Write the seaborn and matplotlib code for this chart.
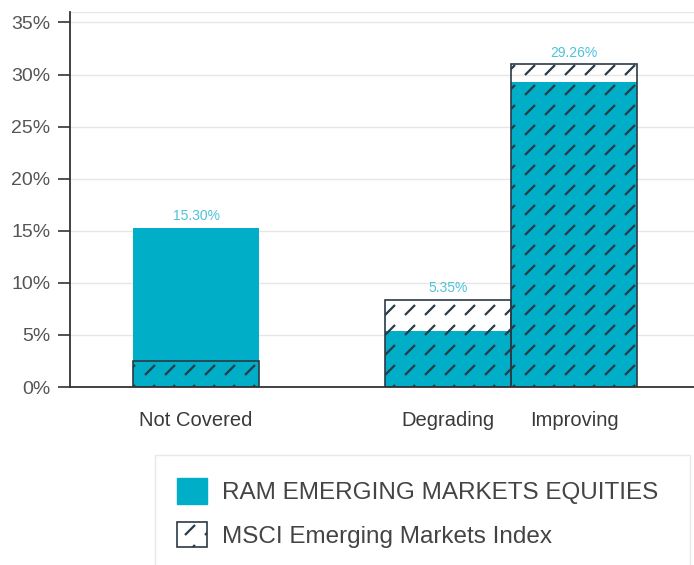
import matplotlib
matplotlib.use("Agg")
import numpy as np
import matplotlib.pyplot as plt
import matplotlib.hatch as mhatch
from matplotlib.path import Path
import seaborn as sns
import pandas as pd
from matplotlib.patches import Patch, Rectangle

categories = ["Not Covered", "Degrading", "Improving"]
order = ["Not Covered", " ", "Degrading", "Improving"]
ram_values = [15.30, 5.35, 29.26]
msci_values = [2.5, 8.4, 31.0]
yticks = [0, 5, 10, 15, 20, 25, 30, 35]
series_names = ["RAM EMERGING MARKETS EQUITIES", "MSCI Emerging Markets Index"]

TEAL = "#00aec7"
DARK = "#2b3a47"


# short diagonal dashes hatch replacing the default '/' pattern
class DashHatch(mhatch.HatchPatternBase):
    def __init__(self, hatch, density):
        self.n = 5 if hatch.count('/') else 0
        self.num_vertices = self.n * self.n * 2

    def set_vertices_and_codes(self, vertices, codes):
        n = self.n
        a = 0.042
        k = 0
        for i in range(n):
            for j in range(n):
                cx = (i + 0.5) / n
                cy = (j + 0.5) / n
                vertices[k] = (cx - a, cy - a)
                vertices[k + 1] = (cx + a, cy + a)
                codes[k] = Path.MOVETO
                codes[k + 1] = Path.LINETO
                k += 2


mhatch._hatch_types = [h for h in mhatch._hatch_types
                       if h is not mhatch.NorthEastHatch] + [DashHatch]

sns.set_theme(style="white")
plt.rcParams["font.family"] = ["Liberation Sans", "DejaVu Sans"]
plt.rcParams["hatch.linewidth"] = 1.6
plt.rcParams["hatch.color"] = "#38444f"

fig = plt.figure(figsize=(6.94, 5.65), dpi=100)
ax = fig.add_axes([70 / 694, (565 - 387) / 565, 1 - 70 / 694, (387 - 12) / 565])

df_ram = pd.DataFrame({"cat": categories, "val": ram_values})
df_msci = pd.DataFrame({"cat": categories, "val": msci_values})

sns.barplot(data=df_ram, x="cat", y="val", order=order, color=TEAL,
            width=1.0, ax=ax, saturation=1, linewidth=0)
n0 = len(ax.patches)
sns.barplot(data=df_msci, x="cat", y="val", order=order, color=TEAL,
            width=1.0, ax=ax, saturation=1)
for p in ax.patches[n0:]:
    p.set_facecolor("none")
    p.set_edgecolor(DARK)
    p.set_linewidth(1.2)
    p.set_hatch("/")

for cat, r, m in zip(categories, ram_values, msci_values):
    xi = order.index(cat)
    ax.text(xi, max(r, m) + 0.4, f"{r:.2f}%", ha="center", va="bottom",
            fontsize=10, color="#4cc3d9")

ax.set_xlim(-1, 3.95)
ax.set_ylim(0, 36)
ax.set_yticks(yticks)
ax.set_yticklabels([f"{t}%" for t in yticks], fontsize=14, color="#555555")
ax.set_yticks(yticks, minor=True)
ax.set_xlabel("")
ax.set_ylabel("")
ax.tick_params(axis="x", length=0, pad=17, labelsize=14.5, labelcolor="#3a3a3a")
ax.tick_params(axis="y", which="major", direction="out", length=9, width=1.2,
               color="#333333", left=True, pad=5)
ax.tick_params(axis="y", which="minor", direction="in", length=3.5, width=1.2,
               color="#333333", left=True)
ax.yaxis.grid(True, color="#e6e6e6", linewidth=1)
ax.set_axisbelow(True)
for s in ["top", "right"]:
    ax.spines[s].set_visible(False)
ax.spines["left"].set_color("#333333")
ax.spines["left"].set_linewidth(1.3)
ax.spines["bottom"].set_color("#333333")
ax.spines["bottom"].set_linewidth(1.3)
ax.axhline(36, color="#e6e6e6", linewidth=1, zorder=0)

# legend box
fig.patches.append(Rectangle((155 / 694, -0.05), (690 - 155) / 694, 0.05 + (565 - 455) / 565,
                             transform=fig.transFigure, facecolor="white",
                             edgecolor="#e8e8e8", linewidth=1))
handles = [Patch(facecolor=TEAL, edgecolor=TEAL),
           Patch(facecolor="white", edgecolor=DARK, hatch="/", linewidth=1.2)]
leg = fig.legend(handles, series_names, loc="upper left",
                 bbox_to_anchor=(177 / 694, 1 - 478 / 565), frameon=False,
                 fontsize=17.5, handlelength=1.25, handleheight=1.25,
                 labelspacing=0.72, handletextpad=0.6, borderpad=0,
                 borderaxespad=0)
for t in leg.get_texts():
    t.set_color("#444444")

fig.savefig("out.png", dpi=100)
